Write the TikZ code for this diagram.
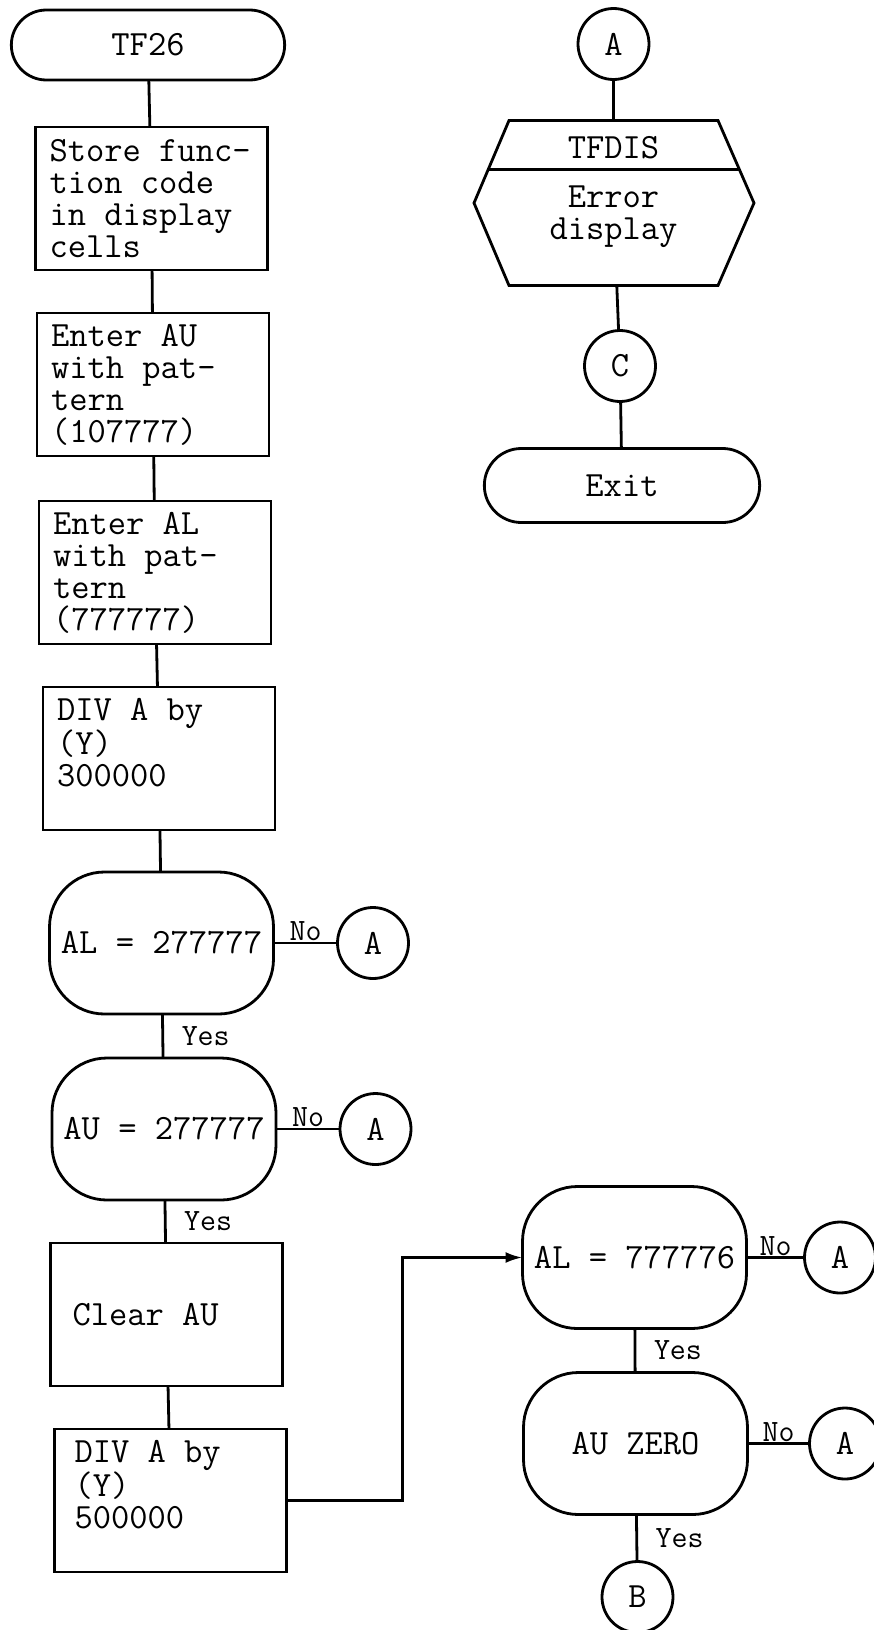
\documentclass[tikz,border=0pt]{standalone}
\usepackage{fontspec}
\usetikzlibrary{arrows.meta,positioning,shapes.misc}

\begin{document}
\begin{tikzpicture}[
    x=1pt, y=-1pt,
    line width=2.8pt,
    every node/.style={font=\fontsize{35.5}{32}\selectfont\ttfamily, outer sep=0pt},
    box/.style={draw, align=flush left, text width=204pt, inner xsep=14pt,
                minimum height=143pt,
                execute at begin node={\spaceskip=0pt\xspaceskip=0pt}},
    term/.style={draw, rounded rectangle, minimum width=280pt, minimum height=70pt},
    dec/.style={draw, rounded corners=55pt, align=center,
                minimum width=224pt, minimum height=142pt},
    conn/.style={draw, circle, minimum size=71pt, inner sep=0pt},
    lbl/.style={font=\fontsize{31}{32}\selectfont\ttfamily, inner sep=2pt},
    arrow/.style={-{Latex[length=17pt, width=11pt]}}
  ]
    \useasboundingbox (0,0) rectangle (874,1630);

    % main column
    \node[term] (tf26) at (148,45) {TF26};
    \node[box, below=47pt of tf26, xshift=3.5pt] (store) {Store func-\\tion code\\in display\\cells};
    \node[box, below=43pt of store, xshift=1.5pt] (enterau) {Enter AU\\with pat-\\tern\\(107777)};
    \node[box, below=45pt of enterau, xshift=2pt] (enteral) {Enter AL\\with pat-\\tern\\(777777)};
    \node[box, below=43pt of enteral, xshift=4pt] (div1) {DIV A by\\(Y)\\300000\\~};
    \node[dec, below=42pt of div1, xshift=2.5pt] (dec1) {AL = 277777};
    \node[dec, below=44pt of dec1, xshift=2.5pt] (dec2) {AU = 277777};
    \node[box, below=43pt of dec2, xshift=2.5pt, inner xsep=22pt, text width=188pt] (clear) {Clear AU};
    \node[box, below=43pt of clear, xshift=4pt, inner xsep=20pt, text width=192pt] (div2) {DIV A by\\(Y)\\500000\\~};

    \node[conn, right=64pt of dec1] (a1) {A};
    \node[conn, right=64pt of dec2] (a2) {A};

    \draw (tf26) -- (store);
    \draw (store) -- (enterau);
    \draw (enterau) -- (enteral);
    \draw (enteral) -- (div1);
    \draw (div1) -- (dec1);
    \draw (dec1) -- node[lbl, above] {No} (a1);
    \draw (dec1) -- node[lbl, right=17pt] {Yes} (dec2);
    \draw (dec2) -- node[lbl, above] {No} (a2);
    \draw (dec2) -- node[lbl, right=17pt] {Yes} (clear);
    \draw (clear) -- (div2);

    % second column
    \node[dec] (dec3) at (634.5,1257.5) {AL = 777776};
    \node[dec, below=44pt of dec3, xshift=1pt] (dec4) {AU ZERO};
    \node[conn, below=47pt of dec4, xshift=2pt] (bconn) {B};
    \node[conn, right=58pt of dec3] (a3) {A};
    \node[conn, right=62pt of dec4] (a4) {A};

    \draw[arrow] (div2.east) -- ++(116,0) |- (dec3);
    \draw (dec3) -- node[lbl, above] {No} (a3);
    \draw (dec3) -- node[lbl, right=17pt] {Yes} (dec4);
    \draw (dec4) -- node[lbl, above] {No} (a4);
    \draw (dec4) -- node[lbl, right=17pt] {Yes} (bconn);

    % error exit
    \node[conn] (atop) at (613.5,44) {A};
    \node[minimum width=209pt, minimum height=165pt, below=41pt of atop] (dis) {};
    \draw (dis.north west) -- (dis.north east) -- ([xshift=36pt]dis.east)
      -- (dis.south east) -- (dis.south west) -- ([xshift=-35pt]dis.west) -- cycle;
    \draw ([shift={(-21,49)}]dis.north west) -- ([shift={(21,49)}]dis.north east);
    \node (dishead) at ([yshift=-27pt]dis.north) {TFDIS};
    \node[align=center] (disbody) at ([yshift=-96pt]dis.north) {Error\\display};
    \node[conn, below=45pt of dis, xshift=6.5pt] (cconn) {C};
    \node[term, below=47pt of cconn, xshift=2pt, minimum width=282pt, minimum height=74pt] (exit) {Exit};

    \draw (atop) -- (dis);
    \draw (dis) -- (cconn);
    \draw (cconn) -- (exit);
\end{tikzpicture}
\end{document}
